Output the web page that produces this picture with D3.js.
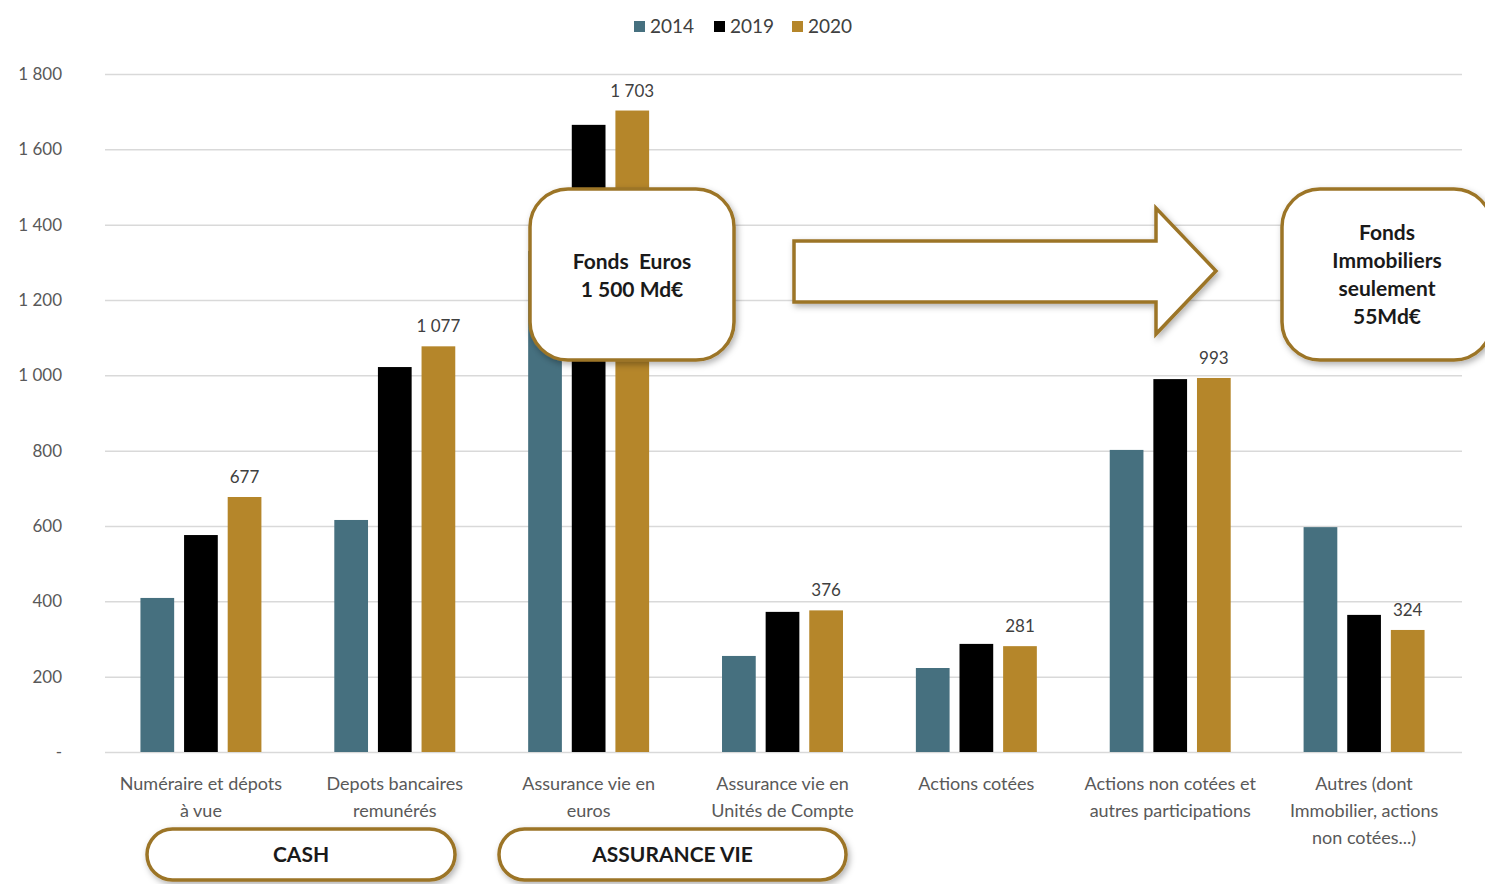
<!DOCTYPE html>
<html><head><meta charset="utf-8">
<script src="https://cdn.jsdelivr.net/npm/d3@7"></script>
<style>
html,body{margin:0;padding:0;background:#fff;}
svg{display:block;font-family:Lato,"Open Sans",sans-serif;}
</style></head>
<body>
<svg id="c" width="1485" height="884"></svg>
<script>
const categories = [
  ["Numéraire et dépots","à vue"],
  ["Depots bancaires","remunérés"],
  ["Assurance vie en","euros"],
  ["Assurance vie en","Unités de Compte"],
  ["Actions cotées"],
  ["Actions non cotées et","autres participations"],
  ["Autres (dont","Immobilier, actions","non cotées...)"]
];
const seriesNames = ["2014","2019","2020"];
const values2014 = [409, 616, 1330, 255, 223, 802, 597];
const values2019 = [576, 1022, 1665, 372, 287, 990, 364];
const values2020 = [677, 1077, 1703, 376, 281, 993, 324];
const labels2020 = ["677","1 077","1 703","376","281","993","324"];
const yTicks = [0,200,400,600,800,1000,1200,1400,1600,1800];
const yTickLabels = ["-","200","400","600","800","1 000","1 200","1 400","1 600","1 800"];
const colors = ["#46707f","#000000","#b5862a"];
const callout1 = ["Fonds  Euros","1 500 Md€"];
const callout2 = ["Fonds","Immobiliers","seulement","55Md€"];
const groups = [{name:"CASH", from:0, to:1}, {name:"ASSURANCE VIE", from:2, to:3}];

(function(){
const svg = d3.select("#c");
const defs = svg.append("defs");
const f = defs.append("filter").attr("id","sh").attr("x","-20%").attr("y","-20%").attr("width","140%").attr("height","140%");
f.append("feDropShadow").attr("dx",2).attr("dy",3).attr("stdDeviation",3).attr("flood-color","#000").attr("flood-opacity",0.3);

const mLeft = 105, mRight = 1462, mTop = 74, mBottom = 752;
const y = d3.scaleLinear().domain([0,1800]).range([mBottom, mTop]);
const catIdx = d3.range(categories.length);
const x0 = d3.scaleBand().domain(catIdx).range([mLeft-1,mRight-1]).paddingInner(0.376).paddingOuter(0.188);
const x1 = d3.scaleBand().domain(seriesNames).range([0,x0.bandwidth()]).paddingInner(0.227);
const allValues = [values2014, values2019, values2020];

// grid
const yAxis = d3.axisLeft(y).tickValues(yTicks).tickSize(-(mRight-mLeft)).tickFormat((d,i)=>yTickLabels[i]);
const gA = svg.append("g").attr("transform",`translate(${mLeft},0)`).call(yAxis);
gA.select(".domain").remove();
gA.selectAll(".tick line").attr("stroke","#d9d9d9").attr("stroke-width",1.5);
gA.selectAll(".tick text").attr("x",-43).attr("fill","#595959").style("font-size","17px").attr("font-family","Lato, sans-serif");

// bars
seriesNames.forEach((s,si)=>{
  svg.append("g").selectAll("rect").data(catIdx).join("rect")
    .attr("x",i=>x0(i)+x1(s)).attr("width",x1.bandwidth())
    .attr("y",i=>y(allValues[si][i])).attr("height",i=>mBottom-y(allValues[si][i]))
    .attr("fill",colors[si]);
});
// value labels
svg.append("g").selectAll("text").data(catIdx).join("text")
  .attr("x",i=>x0(i)+x1("2020")+x1.bandwidth()/2)
  .attr("y",i=>y(values2020[i])-14)
  .attr("text-anchor","middle").attr("fill","#404040").style("font-size","17px")
  .text(i=>labels2020[i]);

// category labels
const cl = svg.append("g").selectAll("text").data(catIdx).join("text")
  .attr("x",i=>x0(i)+x0.bandwidth()/2).attr("y",790)
  .attr("text-anchor","middle").attr("fill","#595959").style("font-size","18px");
cl.each(function(i){
  d3.select(this).selectAll("tspan").data(categories[i]).join("tspan")
    .attr("x",x0(i)+x0.bandwidth()/2).attr("dy",(d,k)=>k===0?0:27).text(d=>d);
});

// legend
const lg = svg.append("g").attr("transform","translate(634,18)");
const lgPos = [0,80,158];
seriesNames.forEach((s,i)=>{
  lg.append("rect").attr("x",lgPos[i]).attr("y",3).attr("width",11).attr("height",11).attr("fill",colors[i]);
  lg.append("text").attr("x",lgPos[i]+16).attr("y",15).attr("fill","#404040").style("font-size","19px").text(s);
});

// callout boxes
function callout(x,yy,w,h,lines,cy){
  const g = svg.append("g");
  g.append("rect").attr("x",x).attr("y",yy).attr("width",w).attr("height",h).attr("rx",38)
    .attr("fill","#fff").attr("stroke","#9c7428").attr("stroke-width",3.5).attr("filter","url(#sh)");
  const t = g.append("text").attr("text-anchor","middle").attr("fill","#1a1a1a")
    .style("font-size","21px").style("font-weight","bold").style("white-space","pre");
  lines.forEach((l,k)=>t.append("tspan").attr("x",x+w/2).attr("y",cy+k*28).text(l));
}
callout(530,189,204,171,callout1,269);
callout(1282,189,210,171,callout2,240);

// block arrow
const ax = d3.path();
ax.moveTo(794,241); ax.lineTo(1156,241); ax.lineTo(1156,208); ax.lineTo(1216,271);
ax.lineTo(1156,334); ax.lineTo(1156,302); ax.lineTo(794,302); ax.closePath();
svg.append("path").attr("d",ax.toString()).attr("fill","#fff").attr("stroke","#9c7428")
  .attr("stroke-width",3.5).attr("stroke-linejoin","miter").attr("filter","url(#sh)");

// group pills
groups.forEach(gp=>{
  const xs = gp.from===0 ? 147 : 499;
  const xe = gp.from===0 ? 455 : 846;
  svg.append("rect").attr("x",xs).attr("y",829).attr("width",xe-xs).attr("height",51).attr("rx",25.5)
    .attr("fill","#fff").attr("stroke","#9c7428").attr("stroke-width",3.5).attr("filter","url(#sh)");
  svg.append("text").attr("x",(xs+xe)/2).attr("y",862).attr("text-anchor","middle")
    .attr("fill","#1a1a1a").style("font-size","21px").style("font-weight","bold").text(gp.name);
});
})();
</script>
</body></html>
